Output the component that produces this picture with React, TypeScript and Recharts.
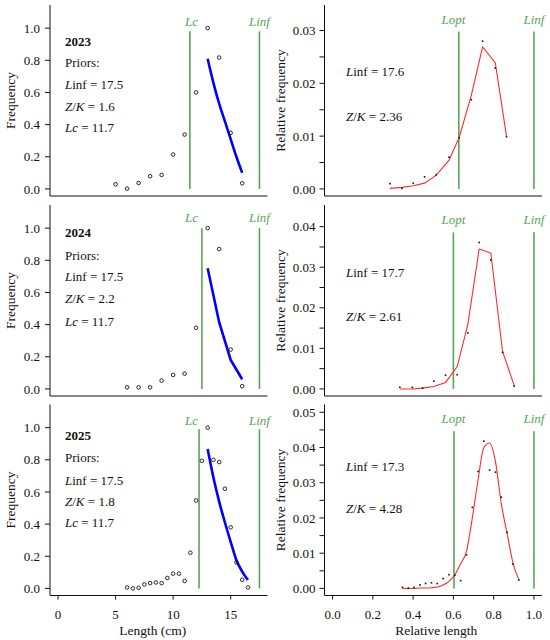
import React from 'react'
import { ComposedChart, Line, Scatter, XAxis, YAxis, ReferenceLine, ReferenceDot } from 'recharts'

const FONT = "'Liberation Serif', 'Times New Roman', Times, 'DejaVu Serif', serif"
const GREEN = '#58a558'
const INK = '#111'

const years = ['2023', '2024', '2025']

// priors and estimates printed in the panels
const priorLinf = [17.5, 17.5, 17.5]
const priorZK = [1.6, 2.2, 1.8]
const priorLc = [11.7, 11.7, 11.7]
const estLinf = [17.6, 17.7, 17.3]
const estZK = [2.36, 2.61, 4.28]

// left column: length frequency (open circles) and fitted catch curve (blue)
const lenObs2023 = [5, 6, 7, 8, 9, 10, 11, 12, 13, 14, 15, 16]
const freqObs2023 = [0.029, 0.002, 0.037, 0.079, 0.087, 0.214, 0.338, 0.6, 1.0, 0.817, 0.349, 0.035]
const lenFit2023 = [13, 13.5, 14, 14.5, 15, 15.5, 16]
const freqFit2023 = [0.81, 0.66, 0.53, 0.42, 0.31, 0.2, 0.1]

const lenObs2024 = [6, 7, 8, 9, 10, 11, 12, 13, 14, 15, 16]
const freqObs2024 = [0.01, 0.01, 0.01, 0.052, 0.087, 0.095, 0.38, 1.0, 0.87, 0.245, 0.017]
const lenFit2024 = [13, 14, 15, 16]
const freqFit2024 = [0.75, 0.415, 0.18, 0.06]

const lenObs2025 = [6, 6.5, 7, 7.5, 8, 8.5, 9, 9.5, 10, 10.5, 11, 11.5, 12, 12.5, 13, 13.5, 14, 14.5, 15, 15.5, 16, 16.5]
const freqObs2025 = [0.006, 0.0, 0.004, 0.025, 0.033, 0.037, 0.033, 0.065, 0.092, 0.092, 0.046, 0.222, 0.547, 0.794, 1.0, 0.8, 0.786, 0.62, 0.38, 0.162, 0.054, 0.006]
const lenFit2025 = [13, 13.5, 14, 14.5, 15, 15.5, 16, 16.5]
const freqFit2025 = [0.867, 0.69, 0.54, 0.41, 0.29, 0.175, 0.105, 0.052]

// estimated Lc line (cm)
const lcLine = [11.45, 12.5, 12.25]

// right column: relative length vs relative frequency (dots) and fit (red)
const rel2023 = [0.285, 0.344, 0.401, 0.457, 0.515, 0.578, 0.629, 0.689, 0.745, 0.808, 0.864]
const relObs2023 = [0.001, 0.0001, 0.0011, 0.0023, 0.0027, 0.006, 0.0097, 0.0169, 0.028, 0.0229, 0.0099]
const relFit2023 = [0.0001, 0.0003, 0.0006, 0.0011, 0.0026, 0.0054, 0.0098, 0.0177, 0.0269, 0.0239, 0.0099]

const rel2024 = [0.334, 0.396, 0.447, 0.503, 0.561, 0.619, 0.672, 0.728, 0.786, 0.844, 0.902]
const relObs2024 = [0.0004, 0.0004, 0.0002, 0.0019, 0.0034, 0.0035, 0.0138, 0.0361, 0.0318, 0.009, 0.0007]
const relFit2024 = [0.0, 0.0, 0.0002, 0.0006, 0.0016, 0.0055, 0.016, 0.0345, 0.0335, 0.0093, 0.0008]

const rel2025 = [0.347, 0.376, 0.405, 0.434, 0.462, 0.491, 0.52, 0.549, 0.578, 0.607, 0.636, 0.665, 0.694, 0.723, 0.751, 0.78, 0.809, 0.838, 0.867, 0.896, 0.925]
const relObs2025 = [0.0003, 0.0001, 0.0003, 0.001, 0.0014, 0.0016, 0.0014, 0.0028, 0.0039, 0.0037, 0.0022, 0.0095, 0.023, 0.0332, 0.0418, 0.0336, 0.033, 0.0259, 0.0159, 0.0069, 0.0024]
const relFit2025 = [0.0, 0.0, 0.0, 0.0001, 0.0001, 0.0002, 0.0004, 0.001, 0.002, 0.0039, 0.007, 0.0105, 0.02, 0.031, 0.04, 0.0413, 0.036, 0.024, 0.0155, 0.0072, 0.0025]

// estimated Lopt line (relative length)
const loptLine = [0.627, 0.6, 0.603]

// axis ticks
const lenTicks = [0, 5, 10, 15]
const freqTicks = [0, 0.2, 0.4, 0.6, 0.8, 1.0]
const relLenTicks = [0, 0.2, 0.4, 0.6, 0.8, 1.0]
const relFreqTicks2023 = [0, 0.005, 0.01, 0.015, 0.02, 0.025, 0.03]
const relFreqTicks2024 = [0, 0.005, 0.01, 0.015, 0.02, 0.025, 0.03, 0.035, 0.04]
const relFreqTicks2025 = [0, 0.005, 0.01, 0.015, 0.02, 0.025, 0.03, 0.035, 0.04, 0.045, 0.05]

const tickText = { fontSize: 13, fontFamily: FONT, fill: INK }

const zip = (xs: number[], ys: number[]) => xs.map((x, i) => ({ x, y: ys[i] }))

const circle = (p: any) => <circle cx={p.cx} cy={p.cy} r={1.8} fill="none" stroke={INK} strokeWidth={0.9} />
const speck = (p: any) => <rect x={p.cx - 0.8} y={p.cy - 0.8} width={1.6} height={1.6} fill={INK} />

const tagLabel = (value: string) => ({
  value,
  position: 'center' as const,
  fill: GREEN,
  fontStyle: 'italic',
  fontSize: 13,
  fontFamily: FONT,
})

const yTitle = (text: string, dx: number) => ({
  content: ({ viewBox }: any) => {
    const x = viewBox.x + dx
    const y = viewBox.y + viewBox.height / 2
    return (
      <text x={x} y={y} transform={`rotate(-90 ${x} ${y})`} textAnchor="middle" dominantBaseline="central"
        fontFamily={FONT} fontSize={13.5} fill={INK}>{text}</text>
    )
  },
})

const xTitle = (text: string, dx: number) => ({
  content: ({ viewBox }: any) => (
    <text x={viewBox.x + viewBox.width / 2 + dx} y={viewBox.y + 35} textAnchor="middle" dominantBaseline="central"
      fontFamily={FONT} fontSize={13.5} fill={INK}>{text}</text>
  ),
})

type Row = { top: number; height: number; marginTop: number; bottom: boolean }
const rows: Row[] = [
  { top: 0, height: 200, marginTop: 5, bottom: false },
  { top: 200, height: 200, marginTop: 5, bottom: false },
  { top: 400, height: 240, marginTop: 4.5, bottom: true },
]

function LengthPanel({ row, obs, fit, lc, lineTop, tagY, curve }: any) {
  const axisH = row.bottom ? row.height - row.marginTop - 191 : 4
  return (
    <div style={{ position: 'absolute', left: 0, top: row.top }}>
      <ComposedChart width={275} height={row.height} margin={{ top: row.marginTop, right: 7.5, bottom: 0, left: 0 }}>
        <XAxis type="number" dataKey="x" domain={[-0.7, 18.2]} allowDataOverflow ticks={lenTicks} interval={0}
          height={axisH} tick={row.bottom ? tickText : false} tickSize={4} tickMargin={10}
          stroke={INK} label={row.bottom ? xTitle('Length (cm)', -6) : undefined} />
        <YAxis type="number" domain={[-0.044, 1.144]} allowDataOverflow ticks={freqTicks} interval={0}
          tickFormatter={(v: number) => v.toFixed(1)} width={50} tickSize={5} tickMargin={5}
          tick={tickText} stroke={INK} label={yTitle('Frequency', 10)} />
        <ReferenceLine segment={[{ x: lc, y: 0 }, { x: lc, y: lineTop }]} stroke={GREEN} strokeWidth={1.6} />
        <ReferenceLine segment={[{ x: 17.5, y: 0 }, { x: 17.5, y: lineTop }]} stroke={GREEN} strokeWidth={1.6} />
        <ReferenceDot x={11.6} y={tagY} r={1} fill="none" stroke="none" ifOverflow="visible" label={tagLabel('Lc')} />
        <ReferenceDot x={17.5} y={tagY} r={1} fill="none" stroke="none" ifOverflow="visible" label={tagLabel('Linf')} />
        <Scatter data={obs} dataKey="y" shape={circle} isAnimationActive={false} />
        <Line data={fit} dataKey="y" type={curve} stroke="#0000ff" strokeWidth={2.6} dot={false} activeDot={false}
          isAnimationActive={false} />
      </ComposedChart>
    </div>
  )
}

function RelPanel({ row, obs, fit, lopt, lineTop, tagY, yMax, ticks, curve }: any) {
  const axisH = row.bottom ? row.height - row.marginTop - 191 : 4
  return (
    <div style={{ position: 'absolute', left: 268, top: row.top }}>
      <ComposedChart width={282} height={row.height} margin={{ top: row.marginTop, right: 8, bottom: 0, left: 0 }}>
        <XAxis type="number" dataKey="x" domain={[-0.04, 1.04]} allowDataOverflow ticks={relLenTicks} interval={0}
          tickFormatter={(v: number) => v.toFixed(1)} height={axisH} tick={row.bottom ? tickText : false}
          tickSize={4} tickMargin={10} stroke={INK} label={row.bottom ? xTitle('Relative length', 3) : undefined} />
        <YAxis type="number" domain={[-0.04 * yMax, 1.04 * yMax]} allowDataOverflow ticks={ticks} interval={0}
          tickFormatter={(v: number) => (Math.abs(v * 100 - Math.round(v * 100)) < 1e-6 ? v.toFixed(2) : '')}
          width={56.5} tickSize={5} tickMargin={4} tick={tickText} stroke={INK}
          label={yTitle('Relative frequency', 12)} />
        <ReferenceLine segment={[{ x: lopt, y: 0 }, { x: lopt, y: lineTop }]} stroke={GREEN} strokeWidth={1.6} />
        <ReferenceLine segment={[{ x: 1, y: 0 }, { x: 1, y: lineTop }]} stroke={GREEN} strokeWidth={1.6} />
        <ReferenceDot x={0.6} y={tagY} r={1} fill="none" stroke="none" ifOverflow="visible" label={tagLabel('Lopt')} />
        <ReferenceDot x={1} y={tagY} r={1} fill="none" stroke="none" ifOverflow="visible" label={tagLabel('Linf')} />
        <Scatter data={obs} dataKey="y" shape={speck} isAnimationActive={false} />
        <Line data={fit} dataKey="y" type={curve} stroke="#ff2a2a" strokeWidth={1.1} dot={false} activeDot={false}
          isAnimationActive={false} />
      </ComposedChart>
    </div>
  )
}

function Note({ x, y, bold, children }: any) {
  return (
    <div style={{ position: 'absolute', left: x, top: y - 8, fontSize: 13, lineHeight: '16px', whiteSpace: 'nowrap',
      fontWeight: bold ? 700 : 400, color: INK, fontFamily: FONT }}>{children}</div>
  )
}

// vertical centres of the text lines in each row
const priorLines = [
  [42, 63.3, 85, 106.7, 128.3],
  [233.3, 256, 277.3, 299.3, 321.7],
  [436, 458.3, 480.7, 501.7, 523.3],
]
const estLines = [
  [72, 117.3],
  [272.7, 317.3],
  [466.7, 509.3],
]

export default function App() {
  return (
    <div style={{ position: 'absolute', left: 0, top: 0, width: 550, height: 640, background: '#fff', overflow: 'hidden', fontFamily: FONT }}>
      <LengthPanel row={rows[0]} obs={zip(lenObs2023, freqObs2023)} fit={zip(lenFit2023, freqFit2023)}
        lc={lcLine[0]} lineTop={0.98} tagY={1.045} curve="monotone" />
      <LengthPanel row={rows[1]} obs={zip(lenObs2024, freqObs2024)} fit={zip(lenFit2024, freqFit2024)}
        lc={lcLine[1]} lineTop={1.0} tagY={1.068} curve="linear" />
      <LengthPanel row={rows[2]} obs={zip(lenObs2025, freqObs2025)} fit={zip(lenFit2025, freqFit2025)}
        lc={lcLine[2]} lineTop={0.99} tagY={1.045} curve="monotone" />

      <RelPanel row={rows[0]} obs={zip(rel2023, relObs2023)} fit={zip(rel2023, relFit2023)} lopt={loptLine[0]}
        lineTop={0.0298} tagY={0.0322} yMax={0.0335} ticks={relFreqTicks2023} curve="linear" />
      <RelPanel row={rows[1]} obs={zip(rel2024, relObs2024)} fit={zip(rel2024, relFit2024)} lopt={loptLine[1]}
        lineTop={0.0386} tagY={0.0419} yMax={0.0436} ticks={relFreqTicks2024} curve="linear" />
      <RelPanel row={rows[2]} obs={zip(rel2025, relObs2025)} fit={zip(rel2025, relFit2025)} lopt={loptLine[2]}
        lineTop={0.0446} tagY={0.0484} yMax={0.0502} ticks={relFreqTicks2025} curve="monotone" />

      {years.map((yr, i) => (
        <React.Fragment key={yr}>
          <Note x={65} y={priorLines[i][0]} bold>{yr}</Note>
          <Note x={65} y={priorLines[i][1]}>Priors:</Note>
          <Note x={65} y={priorLines[i][2]}><i>L</i>inf = {priorLinf[i]}</Note>
          <Note x={65} y={priorLines[i][3]}><i>Z</i>/<i>K</i> = {priorZK[i]}</Note>
          <Note x={65} y={priorLines[i][4]}><i>Lc</i> = {priorLc[i]}</Note>
          <Note x={346} y={estLines[i][0]}><i>L</i>inf = {estLinf[i]}</Note>
          <Note x={346} y={estLines[i][1]}><i>Z</i>/<i>K</i> = {estZK[i]}</Note>
        </React.Fragment>
      ))}
    </div>
  )
}
